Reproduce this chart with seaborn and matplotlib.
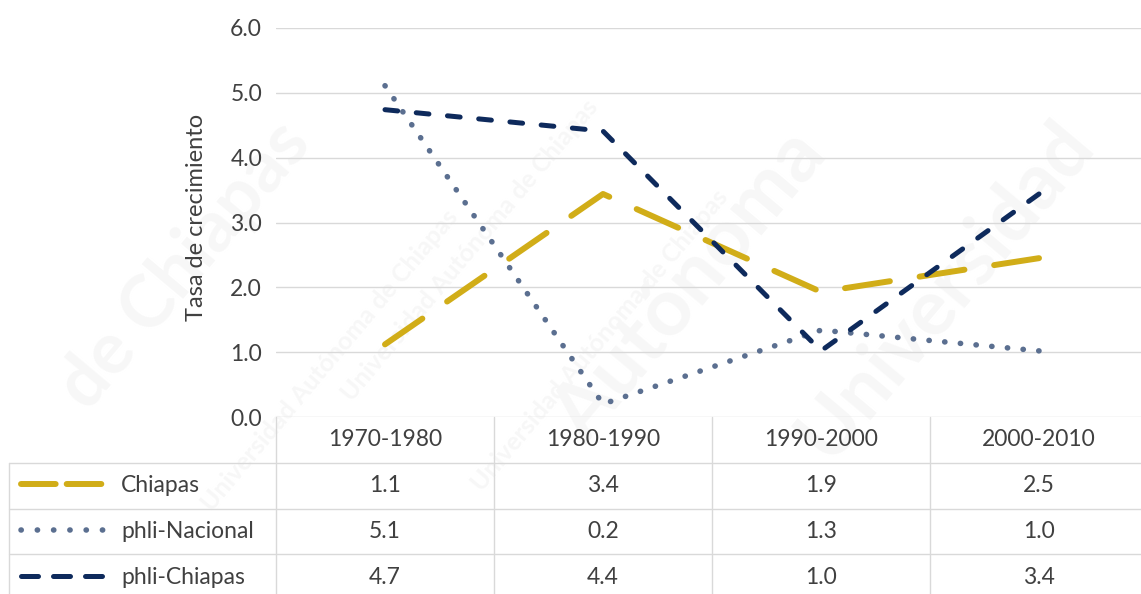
import numpy as np
import pandas as pd
import matplotlib
matplotlib.use("Agg")
import matplotlib.pyplot as plt
import seaborn as sns
from matplotlib.lines import Line2D
from matplotlib.transforms import blended_transform_factory

# ---------------- data ----------------
periods = ["1970-1980", "1980-1990", "1990-2000", "2000-2010"]
series_names = ["Chiapas", "phli-Nacional", "phli-Chiapas"]
chiapas = [1.12, 3.44, 1.93, 2.45]
phli_nacional = [5.11, 0.20, 1.34, 1.02]
phli_chiapas = [4.74, 4.41, 1.02, 3.44]
y_ticks = [0, 1, 2, 3, 4, 5, 6]
y_label = "Tasa de crecimiento"
watermark = ["Universidad", "Autónoma", "de Chiapas"]

# ---------------- style ----------------
sns.set_theme(style="white")
plt.rcParams["font.family"] = ["Lato", "DejaVu Sans"]
TXT = "#404040"
GRID = "#d9d9d9"
GOLD = "#D1AD18"
SLATE = "#5B6F90"
NAVY = "#0E2A5C"
WM = "#f7f7f7"
FW = "normal"

W, H = 1141, 594
fig = plt.figure(figsize=(W / 100, H / 100), dpi=100)
fig.patch.set_facecolor("white")


def fx(px):
    return px / W


def fy(py):
    return 1 - py / H


# faint watermark
fig.text(fx(945), fy(290), watermark[0], rotation=50, ha="center", va="center",
         fontsize=56, fontweight="bold", color=WM, zorder=-5)
fig.text(fx(690), fy(285), watermark[1], rotation=50, ha="center", va="center",
         fontsize=58, fontweight="bold", color=WM, zorder=-5)
fig.text(fx(185), fy(265), watermark[2], rotation=50, ha="center", va="center",
         fontsize=52, fontweight="bold", color=WM, zorder=-5)
for (cx, cy) in [(470, 250), (330, 360), (600, 340)]:
    fig.text(fx(cx), fy(cy), " ".join(watermark), rotation=50, ha="center",
             va="center", fontsize=18, fontweight="bold", color=WM, zorder=-5)

ax = fig.add_axes([fx(276), fy(417), (1148 - 276) / W, (417 - 28) / H])
ax.set_facecolor("none")

df = pd.DataFrame({
    "periodo": periods * 3,
    "tasa": chiapas + phli_nacional + phli_chiapas,
    "serie": np.repeat(series_names, len(periods)),
})

styles = {
    "Chiapas": dict(color=GOLD, lw=4.3, dash=(8.0, 5.3)),
    "phli-Nacional": dict(color=SLATE, lw=4.0, dash=(0.05, 2.8)),
    "phli-Chiapas": dict(color=NAVY, lw=3.6, dash=(2.6, 3.8)),
}
plot_order = ["phli-Nacional", "Chiapas", "phli-Chiapas"]
ax.set_xlim(-0.5, len(periods) - 0.5)
ax.set_ylim(0, 6)
for name in plot_order:
    st = styles[name]
    sub = df[df["serie"] == name]
    sns.lineplot(data=sub, x="periodo", y="tasa", ax=ax, color=st["color"],
                 lw=st["lw"], sort=False, legend=False, zorder=3)
    ln = ax.lines[-1]
    ax.set_xlim(-0.5, len(periods) - 0.5)
    ax.set_ylim(0, 6)
    # stretch the dash pattern slightly so the line starts and ends on a dash
    pts = ln.get_transform().transform(ln.get_path().vertices)
    L = np.sum(np.hypot(*np.diff(pts, axis=0).T)) * 72 / 100 / st["lw"]
    on, off = st["dash"]
    n = max(1, round((L - on) / (on + off)))
    s = L / (n * (on + off) + on)
    ln.set_linestyle((0, (on * s, off * s)))
    ln.set_dash_capstyle("round")
    ln.set_solid_capstyle("round")
    ln.set_dash_joinstyle("round")
    ln.set_solid_joinstyle("round")

ax.set_xlim(-0.5, len(periods) - 0.5)
ax.set_ylim(0, 6)
ax.set_yticks(y_ticks)
ax.set_yticklabels([f"{v:.1f}" for v in y_ticks], fontsize=16.5, color=TXT,
                   fontweight=FW)
ax.tick_params(axis="y", length=0, pad=10)
ax.set_xticks([])
ax.set_xlabel("")
ax.set_ylabel(y_label, fontsize=17, color=TXT, fontweight=FW)
ax.yaxis.set_label_coords((207 - 276) / (1148 - 276), 0.512)
for sp in ax.spines.values():
    sp.set_visible(False)
ax.yaxis.grid(True, color=GRID, lw=1.0, zorder=0)
ax.set_axisbelow(True)

# ---------------- data table ----------------
bt = blended_transform_factory(ax.transData, fig.transFigure)
row_lines_y = [463, 509, 554]
for yy in row_lines_y:
    fig.add_artist(Line2D([fx(9), 1.0], [fy(yy), fy(yy)], transform=fig.transFigure,
                          color=GRID, lw=1.0, zorder=1))
fig.add_artist(Line2D([fx(9), fx(9)], [fy(463), 0], transform=fig.transFigure,
                      color=GRID, lw=1.0, zorder=1))
for i in range(len(periods)):
    fig.add_artist(Line2D([i - 0.5, i - 0.5], [fy(417), 0], transform=bt,
                          color=GRID, lw=1.0, zorder=1))

header_y = 440
row_y = [485, 531, 577]
for i, p in enumerate(periods):
    fig.text(i, fy(header_y), p, transform=bt, ha="center", va="center",
             fontsize=16.5, color=TXT, fontweight=FW)

values = {"Chiapas": chiapas, "phli-Nacional": phli_nacional,
          "phli-Chiapas": phli_chiapas}
for r, name in enumerate(series_names):
    for i, v in enumerate(values[name]):
        fig.text(i, fy(row_y[r]), f"{v:.1f}", transform=bt, ha="center",
                 va="center", fontsize=16.5, color=TXT, fontweight=FW)
    fig.text(fx(121), fy(row_y[r]), name, ha="left", va="center",
             fontsize=16.5, color=TXT, fontweight=FW)

# legend keys inside the table
leg_styles = {
    "Chiapas": dict(color=GOLD, lw=4.3, ls=(0, (5.8, 1.85))),
    "phli-Nacional": dict(color=SLATE, lw=4.0, ls=(0, (0.05, 2.88))),
    "phli-Chiapas": dict(color=NAVY, lw=3.6, ls=(0, (3.4, 3.0))),
}
for r, name in enumerate(series_names):
    st = leg_styles[name]
    ln = Line2D([fx(21), fx(103.5)], [fy(row_y[r] - 1), fy(row_y[r] - 1)],
                transform=fig.transFigure, color=st["color"], lw=st["lw"],
                linestyle=st["ls"], dash_capstyle="round", solid_capstyle="round")
    fig.add_artist(ln)

fig.savefig("out.png", dpi=100, facecolor="white")
